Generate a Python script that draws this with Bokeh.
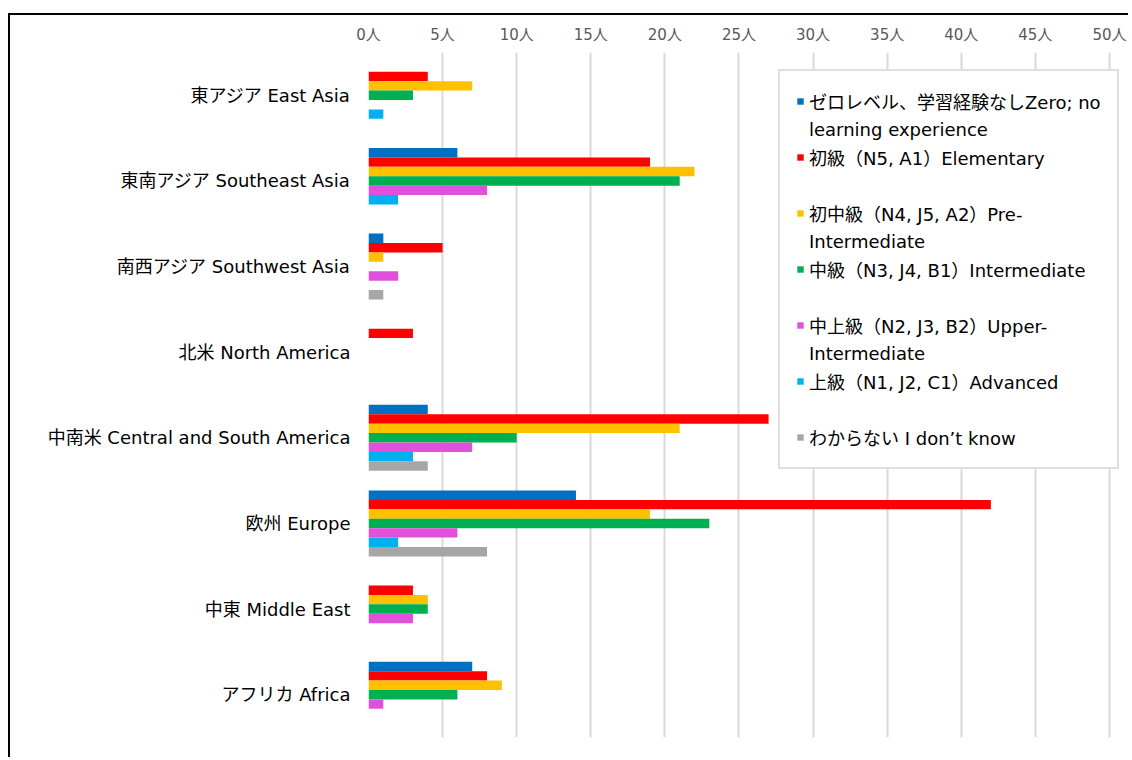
from bokeh.plotting import figure
from bokeh.models import (ColumnDataSource, FactorRange, Range1d, Legend, LegendItem,
                          FixedTicker)
from bokeh.transform import dodge
from bokeh.embed import file_html
from bokeh.resources import INLINE

# ---- data -------------------------------------------------------------
regions = [
    "東アジア East Asia",
    "東南アジア Southeast Asia",
    "南西アジア Southwest Asia",
    "北米 North America",
    "中南米 Central and South America",
    "欧州 Europe",
    "中東 Middle East",
    "アフリカ Africa",
]

zero_level = [0, 6, 1, 0, 4, 14, 0, 7]
elementary = [4, 19, 5, 3, 27, 42, 3, 8]
pre_intermediate = [7, 22, 1, 0, 21, 19, 4, 9]
intermediate = [3, 21, 0, 0, 10, 23, 4, 6]
upper_intermediate = [0, 8, 2, 0, 7, 6, 3, 1]
advanced = [1, 2, 0, 0, 3, 2, 0, 0]
dont_know = [0, 0, 1, 0, 4, 8, 0, 0]

series_keys = ["zero", "elem", "pre", "inter", "upper", "adv", "unk"]
series_values = [zero_level, elementary, pre_intermediate, intermediate,
                 upper_intermediate, advanced, dont_know]
series_colors = ["#0070C0", "#FF0000", "#FFC000", "#00B050",
                 "#E150DA", "#00B0F0", "#A6A6A6"]
# legend lines (first line of each entry, continuation line or None)
series_labels = [
    ("ゼロレベル、学習経験なしZero; no", "learning experience"),
    ("初級（N5, A1）Elementary", None),
    ("初中級（N4, J5, A2）Pre-", "Intermediate"),
    ("中級（N3, J4, B1）Intermediate", None),
    ("中上級（N2, J3, B2）Upper-", "Intermediate"),
    ("上級（N1, J2, C1）Advanced", None),
    ("わからない I don’t know", None),
]

x_ticks = [0, 5, 10, 15, 20, 25, 30, 35, 40, 45, 50]
x_tick_labels = ["0人", "5人", "10人", "15人", "20人", "25人",
                 "30人", "35人", "40人", "45人", "50人"]

# ---- figure -----------------------------------------------------------
MIXED = "DejaVu Sans, Noto Sans CJK JP"

data = {"region": regions}
for k, v in zip(series_keys, series_values):
    data[k] = v
src = ColumnDataSource(data)

p = figure(
    width=1120, height=744,
    y_range=FactorRange(factors=regions[::-1]),
    x_range=Range1d(0, 50.95),
    x_axis_location="above",
    output_backend="svg", toolbar_location=None,
    min_border_left=358, min_border_right=7,
    min_border_top=37, min_border_bottom=22,
)
p.styles = {"border-top": "2px solid black", "border-left": "2px solid black",
            "margin-top": "13px", "margin-left": "8px"}
p.outline_line_color = None
p.background_fill_color = "white"
p.border_fill_color = "white"

bar_h = 0.11
renderers = []
n = len(series_keys)
for i, (k, c) in enumerate(zip(series_keys, series_colors)):
    off = ((n - 1) / 2 - i) * bar_h
    r = p.hbar(y=dodge("region", off, range=p.y_range), right=k, left=0,
               height=bar_h, source=src, fill_color=c, line_color=None)
    renderers.append(r)

# invisible renderer used for legend continuation / blank rows
blank = p.hbar(y=[], right=[], height=bar_h, fill_color=None, line_color=None)

items = []
for i, (first, second) in enumerate(series_labels):
    items.append(LegendItem(label=first, renderers=[renderers[i]]))
    if second is not None:
        items.append(LegendItem(label=second, renderers=[blank]))
    elif i < len(series_labels) - 1:
        items.append(LegendItem(label=" ", renderers=[blank]))

legend = Legend(items=items, location=(410, 268), margin=0, padding=16,
                spacing=0, label_height=28, glyph_width=8, glyph_height=8,
                label_standoff=5,
                label_text_font=MIXED, label_text_font_size="18px",
                label_text_color="black",
                border_line_color="#BFBFBF", border_line_width=2,
                background_fill_color="white", background_fill_alpha=1)
p.add_layout(legend)

# x axis
p.xaxis.ticker = FixedTicker(ticks=x_ticks)
p.xaxis.major_label_overrides = dict(zip(x_ticks, x_tick_labels))
p.xaxis.axis_line_color = None
p.xaxis.major_tick_line_color = None
p.xaxis.minor_tick_line_color = None
p.xaxis.major_tick_out = 0
p.xaxis.major_label_standoff = 9
p.xaxis.major_label_text_font = MIXED
p.xaxis.major_label_text_font_size = "15px"
p.xaxis.major_label_text_color = "#595959"

# y axis
p.yaxis.axis_line_color = None
p.yaxis.major_tick_line_color = None
p.yaxis.minor_tick_line_color = None
p.yaxis.major_tick_out = 0
p.yaxis.major_label_standoff = 18
p.yaxis.major_label_text_font = MIXED
p.yaxis.major_label_text_font_size = "18px"
p.yaxis.major_label_text_color = "black"

p.xgrid.grid_line_color = "#D9D9D9"
p.xgrid.grid_line_width = 2
p.ygrid.grid_line_color = None

open("out.html", "w").write(file_html(p, INLINE))
